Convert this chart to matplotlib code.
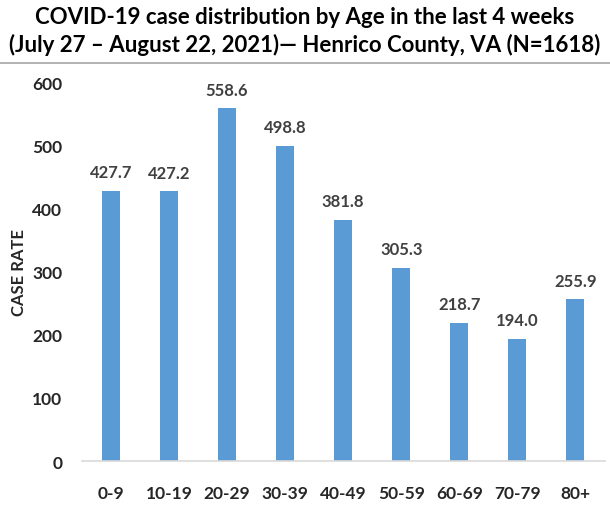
import matplotlib
matplotlib.use('Agg')
import matplotlib.pyplot as plt
from matplotlib.patches import Rectangle

age_groups = ['0-9', '10-19', '20-29', '30-39', '40-49', '50-59', '60-69', '70-79', '80+']
case_rates = [427.7, 427.2, 558.6, 498.8, 381.8, 305.3, 218.7, 194.0, 255.9]
y_ticks = [0, 100, 200, 300, 400, 500, 600]

plt.rcParams['font.family'] = ['Lato', 'DejaVu Sans']

fig = plt.figure(figsize=(6.1, 5.1), dpi=100)
ax = fig.add_axes([0.134, 0.094, 0.857, 0.743])

x = range(len(age_groups))
ax.bar(x, case_rates, width=0.31, color='#5B9BD5')

# value labels above each bar
for i, v in enumerate(case_rates):
    ax.annotate(f'{v:.1f}', (i, v), xytext=(0, 13.5), textcoords='offset points',
                ha='center', va='center', fontsize=12, fontweight='bold', color='#404040')

ax.set_xlim(-0.5, len(age_groups) - 0.5)
ax.set_ylim(0, 600)
ax.set_yticks(y_ticks)
ax.set_xticks(list(x))
ax.set_xticklabels(age_groups)
ax.tick_params(axis='both', length=0, labelsize=12.5, labelcolor='#262626')
ax.tick_params(axis='x', pad=17)
ax.tick_params(axis='y', pad=14)
for lbl in ax.get_xticklabels() + ax.get_yticklabels():
    lbl.set_fontweight('bold')

for s in ['top', 'right', 'left']:
    ax.spines[s].set_visible(False)
ax.spines['bottom'].set_color('#D9D9D9')
ax.spines['bottom'].set_linewidth(1.2)

ax.set_ylabel('CASE RATE', fontsize=12, fontweight='bold', color='#262626', labelpad=4)

fig.text(0.5, 0.965, 'COVID-19 case distribution by Age in the last 4 weeks',
         ha='center', va='center', fontsize=16, fontweight='bold', color='black')
fig.text(0.5, 0.911, '(July 27 \u2013 August 22, 2021)\u2014 Henrico County, VA (N=1618)',
         ha='center', va='center', fontsize=16, fontweight='bold', color='black')

# thin grey rule under the title
fig.add_artist(Rectangle((0, 0.872), 1, 0.005, transform=fig.transFigure,
                         facecolor='#B4B4B4', edgecolor='none', zorder=5))

fig.savefig('out.png', dpi=100)
